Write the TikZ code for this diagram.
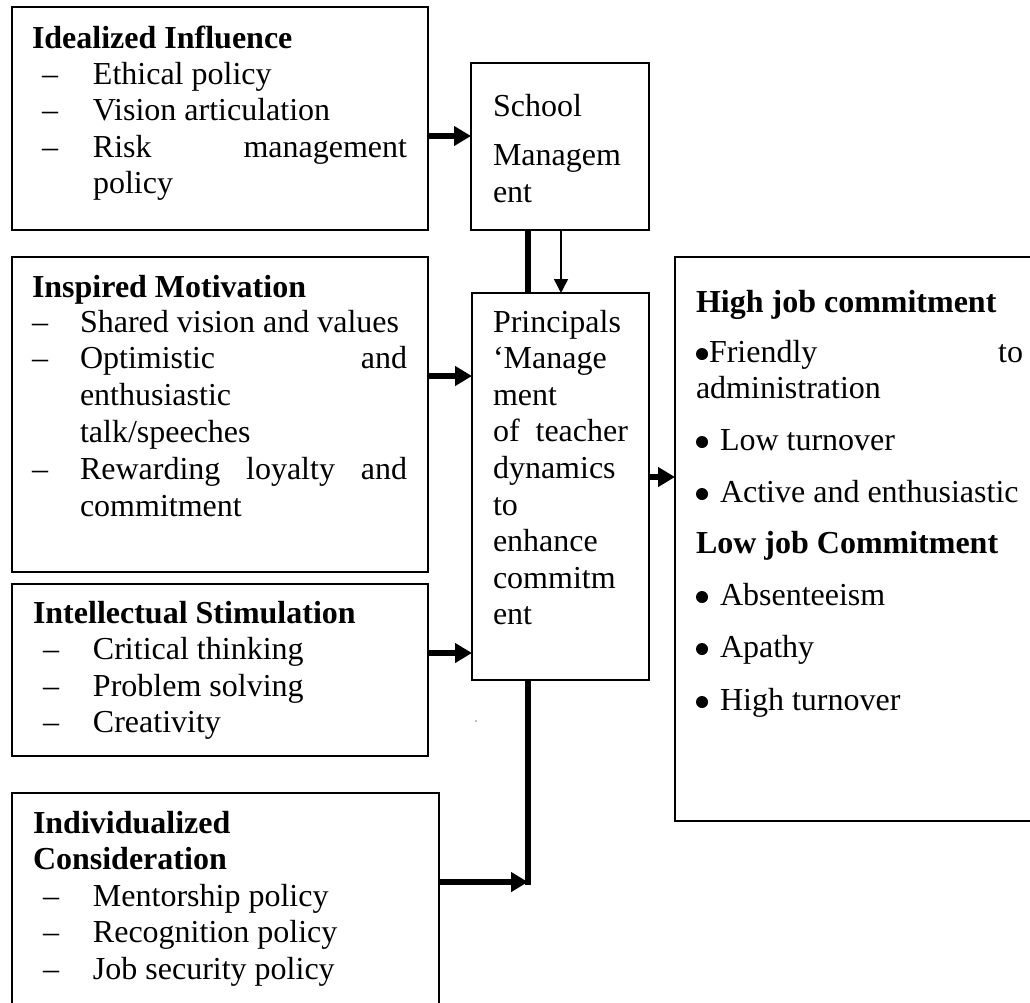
\documentclass[tikz,border=0pt]{standalone}
\usepackage{fontspec}
\setmainfont{Liberation Serif}
\usetikzlibrary{arrows.meta}
\newcommand\diafs{\fontsize{32pt}{36pt}\selectfont}
\newcommand\dashA[1]{\makebox[#1][l]{–}}
\begin{document}
\begin{tikzpicture}[x=1pt,y=-1pt,
  box/.style={draw, line width=1.4pt, anchor=north west, inner sep=0pt, outer sep=0pt},
  txt/.style={anchor=base west, inner sep=0pt, outer sep=0pt, font=\diafs},
  hd/.style={anchor=base west, inner sep=0pt, outer sep=0pt, font=\diafs\bfseries},
  bul/.style={fill=black},
  thickarr/.style={line width=5.5pt, -{Triangle[length=17pt,width=19pt]}},
  thickln/.style={line width=6pt},
  thinarr/.style={line width=1.5pt, -{Triangle[length=14pt,width=14pt]}}]

\useasboundingbox (0,0) rectangle (1030,1002);
\clip (0,0) rectangle (1030,1002);
\fill[white] (0,0) rectangle (1030,1002);

% boxes
\node[box, minimum width=416pt, minimum height=223pt] (b1) at (12,7) {};
\node[box, minimum width=416pt, minimum height=315pt] (b2) at (12,257) {};
\node[box, minimum width=416pt, minimum height=172pt] (b3) at (12,584) {};
\node[box, minimum width=427pt, minimum height=230pt] (b4) at (12,793) {};
\node[box, minimum width=178pt, minimum height=167pt] (school) at (471,63) {};
\node[box, minimum width=177pt, minimum height=387pt] (princ) at (472,293) {};
\node[box, minimum width=380pt, minimum height=564pt] (out) at (675,257) {};

% box 1
\node[hd]  (h1)  at (32,48) {Idealized Influence};
\node[txt] (i1a) at (42,84) {\dashA{51pt}Ethical policy};
\node[txt] (i1b) at (42,120.6) {\dashA{51pt}Vision articulation};
\node[txt] (i1c) at (42,157.2) {\dashA{51pt}\hbox to 314pt{Risk\hfill management}};
\node[txt] (i1d) at (93,193.8) {policy};

% box 2
\node[hd]  (h2)  at (32,297) {Inspired Motivation};
\node[txt] (i2a) at (32,332) {\dashA{48pt}Shared vision and values};
\node[txt] (i2b) at (32,368.8) {\dashA{48pt}\hbox to 327pt{Optimistic\hfill and}};
\node[txt] (i2c) at (80,405.6) {enthusiastic};
\node[txt] (i2d) at (80,442.4) {talk/speeches};
\node[txt] (i2e) at (32,479.2) {\dashA{48pt}\hbox to 327pt{Rewarding\hfill loyalty\hfill and}};
\node[txt] (i2f) at (80,516) {commitment};

% box 3
\node[hd]  (h3)  at (33,623) {Intellectual Stimulation};
\node[txt] (i3a) at (43,659.6) {\dashA{50pt}Critical thinking};
\node[txt] (i3b) at (43,696.2) {\dashA{50pt}Problem solving};
\node[txt] (i3c) at (43,732.8) {\dashA{50pt}Creativity};

% box 4
\node[hd]  (h4a) at (33,833) {Individualized};
\node[hd]  (h4b) at (33,869.5) {Consideration};
\node[txt] (i4a) at (43,906) {\dashA{50pt}Mentorship policy};
\node[txt] (i4b) at (43,942.5) {\dashA{50pt}Recognition policy};
\node[txt] (i4c) at (43,979) {\dashA{50pt}Job security policy};

% school management
\node[txt] (s1) at (493,116) {School};
\node[txt] (s2) at (493,165) {Managem};
\node[txt] (s3) at (493,202) {ent};

% principals
\node[txt] (p1) at (493,332) {Principals};
\node[txt] (p2) at (493,368.6) {‘Manage};
\node[txt] (p3) at (493,405.2) {ment};
\node[txt] (p4) at (493,441.8) {\hbox to 135pt{of\hfill teacher}};
\node[txt] (p5) at (493,478.4) {dynamics};
\node[txt] (p6) at (493,515) {to};
\node[txt] (p7) at (493,551.6) {enhance};
\node[txt] (p8) at (493,588.2) {commitm};
\node[txt] (p9) at (493,624.8) {ent};

% outcomes
\node[hd]  (o1) at (696,312) {High job commitment};
\fill[bul] (702,354) circle (6pt);
\node[txt] (o2) at (709,362) {\hbox to 314pt{Friendly\hfill to}};
\node[txt] (o3) at (696,398) {administration};
\fill[bul] (702,442) circle (6pt);
\node[txt] (o4) at (720,450) {Low turnover};
\fill[bul] (702,494) circle (6pt);
\node[txt] (o5) at (720,502) {Active and enthusiastic};
\node[hd]  (o6) at (696,553) {Low job Commitment};
\fill[bul] (702,597) circle (6pt);
\node[txt] (o7) at (720,605) {Absenteeism};
\fill[bul] (702,649) circle (6pt);
\node[txt] (o8) at (720,657) {Apathy};
\fill[bul] (702,702) circle (6pt);
\node[txt] (o9) at (720,710) {High turnover};

% connectors
\coordinate (join) at (528,882);
\draw[thickarr] (b1.east |- 0,136) -- (school.west |- 0,136);
\draw[thickln] (school.south -| 528,0) -- (princ.north -| 528,0);
\draw[thinarr] (school.south -| 561,0) -- (princ.north -| 561,0);
\draw[thickarr] (b2.east |- 0,376) -- (princ.west |- 0,376);
\draw[thickarr] (b3.east |- 0,653) -- (princ.west |- 0,653);
\draw[thickarr] (princ.east |- 0,477) -- (out.west |- 0,477);
\draw[thickln] (princ.south -| join) -- ([yshift=-3pt]join);
\draw[thickarr] (b4.east |- join) -- (join);

\fill[gray] (476,721) circle (0.8pt);
\end{tikzpicture}
\end{document}
